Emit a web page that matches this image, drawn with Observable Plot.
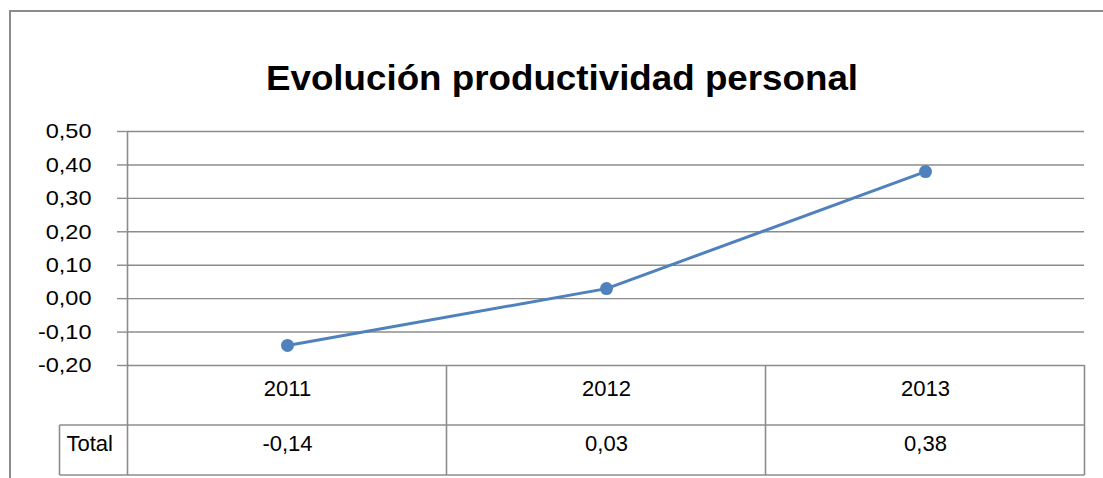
<!DOCTYPE html>
<html><head><meta charset="utf-8">
<script src="https://cdn.jsdelivr.net/npm/d3@7"></script>
<script src="https://cdn.jsdelivr.net/npm/@observablehq/plot@0.6"></script>
<style>
body{margin:0;background:#fff;font-family:"Liberation Sans",Arial,sans-serif;}
#wrap{position:relative;width:1103px;height:478px;overflow:hidden;}
#border{position:absolute;left:9px;top:10px;width:1300px;height:700px;border:2px solid #8c8c8c;box-sizing:border-box}
#chart{position:absolute;left:0;top:0}
</style></head><body><div id="wrap"><div id="border"></div><div id="chart"></div></div>
<script>
const title = "Evolución productividad personal";
const years = ["2011", "2012", "2013"];
const values = [-0.14, 0.03, 0.38];
const yTicks = [-0.2, -0.1, 0, 0.1, 0.2, 0.3, 0.4, 0.5];
const rowLabel = "Total";

const fmt = d => d.toFixed(2).replace(".", ",");
const data = years.map((year, i) => ({year, value: values[i]}));
const blue = "#4f81bd", gray = "#8c8c8c";

const chart = Plot.plot({
  width: 1103, height: 478,
  marginLeft: 127, marginRight: 19, marginTop: 131, marginBottom: 113,
  style: {fontFamily: '"Liberation Sans", Arial, sans-serif', background: "transparent", color: "#000", overflow: "visible"},
  x: {type: "point", domain: years, padding: 0.5, axis: null},
  y: {domain: [-0.2, 0.5], axis: null},
  marks: [
    Plot.gridY(yTicks, {stroke: gray, strokeOpacity: 1, strokeWidth: 1.4}),
    Plot.axisY(yTicks, {label: null, tickSize: 10, tickPadding: 26, tickFormat: fmt, stroke: gray, strokeOpacity: 1, strokeWidth: 1.4, fontSize: 21, fill: "#000", className: "ylab"}),
    Plot.line(data, {x: "year", y: "value", stroke: blue, strokeWidth: 3}),
    Plot.dot(data, {x: "year", y: "value", r: 6.5, fill: blue}),
    Plot.text(years, {x: d => d, frameAnchor: "bottom", dy: 30, fontSize: 22, fill: "#000"}),
    Plot.text(data, {x: "year", text: d => fmt(d.value), frameAnchor: "bottom", dy: 85, fontSize: 22, fill: "#000"}),
    Plot.text([rowLabel], {frameAnchor: "bottom-left", textAnchor: "start", dx: -61, dy: 85, fontSize: 22, fill: "#000"}),
    Plot.text([title], {frameAnchor: "top", dx: -44, dy: -67, fontSize: 35.5, fontWeight: "bold", fill: "#000", className: "ttl"})
  ]
});
document.getElementById("chart").appendChild(chart);

// data table grid, derived from the plot's scales
(function() {
  const svg = d3.select(chart);
  const xs = chart.scale("x"), ys = chart.scale("y");
  const pos = years.map(y => xs.apply(y));
  const step = pos[1] - pos[0];
  const left = pos[0] - step / 2, right = pos[pos.length - 1] + step / 2;
  const plotTop = ys.apply(0.5), tableTop = ys.apply(-0.2);
  const row1 = tableTop + 60, row2 = tableTop + 110;
  const labelLeft = left - 68;
  const g = svg.append("g").attr("stroke", gray).attr("stroke-width", 1.6).attr("fill", "none");
  const seg = (x1, y1, x2, y2) => g.append("line").attr("x1", x1).attr("y1", y1).attr("x2", x2).attr("y2", y2);
  seg(left, plotTop, left, row2);
  seg(labelLeft, row1, right, row1);
  seg(labelLeft, row2, right, row2);
  seg(labelLeft, row1, labelLeft, row2);
  pos.forEach(p => seg(p + step / 2, tableTop, p + step / 2, row2));

  function stretch(sel, f) {
    sel.each(function() {
      const L = this.getComputedTextLength();
      this.setAttribute("textLength", L * f);
      this.setAttribute("lengthAdjust", "spacingAndGlyphs");
    });
  }
  const ylabs = svg.selectAll('.ylab text, text.ylab, [aria-label="y-axis tick label"] text');
  stretch(ylabs, 1.12);
  stretch(svg.selectAll('.ttl text, text.ttl'), 1.035);
})();
</script></body></html>
